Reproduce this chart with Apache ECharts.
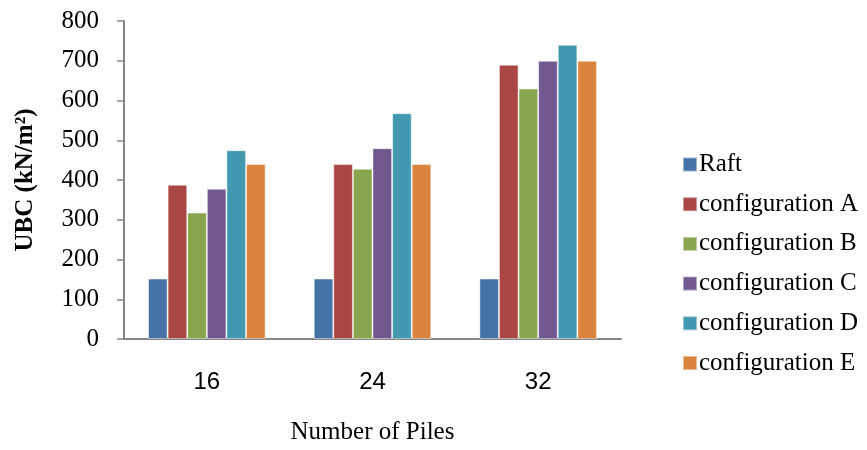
<!DOCTYPE html>
<html>
<head>
<meta charset="utf-8">
<script src="https://cdn.jsdelivr.net/npm/echarts@6/dist/echarts.min.js"></script>
<style>html,body{margin:0;padding:0;background:#fff}#c{width:867px;height:450px}</style>
</head>
<body>
<div id="c"></div>
<script>
var categories = ['16', '24', '32'];
var seriesNames = ['Raft', 'configuration A', 'configuration B', 'configuration C', 'configuration D', 'configuration E'];
var raft = [152, 152, 152];
var configA = [388, 440, 690];
var configB = [318, 428, 630];
var configC = [378, 480, 700];
var configD = [475, 568, 740];
var configE = [440, 440, 700];
var yTicks = [0, 100, 200, 300, 400, 500, 600, 700, 800];
var colors = ['#4572A7', '#AA4643', '#89A54E', '#71588F', '#4198AF', '#DB843D'];

var values = [raft, configA, configB, configC, configD, configE];
var chart = echarts.init(document.getElementById('c'));
var serif = '"Liberation Serif", "Times New Roman", serif';
chart.setOption({
  animation: false,
  color: colors,
  grid: { left: 124, right: 246, top: 21, bottom: 108 },
  legend: {
    orient: 'vertical',
    left: 677,
    top: 147,
    itemWidth: 14,
    itemHeight: 14,
    itemGap: 14.7,
    icon: 'rect',
    textStyle: { fontFamily: serif, fontSize: 25, color: '#000', padding: [0, 0, 0, -3], lineHeight: 24 },
    data: seriesNames
  },
  xAxis: {
    type: 'category',
    data: categories,
    axisLine: { lineStyle: { color: '#868686', width: 2 } },
    axisTick: { show: false },
    axisLabel: { fontFamily: '"Liberation Sans Narrow", "Liberation Sans", Arial, sans-serif', fontSize: 24, color: '#000', margin: 31 },
    name: 'Number of Piles',
    nameLocation: 'middle',
    nameGap: 81,
    nameTextStyle: { fontFamily: serif, fontSize: 25, color: '#000' }
  },
  yAxis: {
    type: 'value',
    min: yTicks[0],
    max: yTicks[yTicks.length - 1],
    interval: 100,
    axisLine: { show: true, lineStyle: { color: '#868686', width: 2 } },
    axisTick: { show: true, length: 7, lineStyle: { color: '#868686', width: 1.5 } },
    splitLine: { show: false },
    axisLabel: { fontFamily: serif, fontSize: 25, color: '#000', margin: 25 },
    name: 'UBC (kN/m²)',
    nameLocation: 'middle',
    nameGap: 86,
    nameTextStyle: { fontFamily: serif, fontSize: 25, fontWeight: 'bold', color: '#000' }
  },
  series: seriesNames.map(function (n, i) {
    return {
      name: n,
      type: 'bar',
      data: values[i],
      barGap: '0%',
      barCategoryGap: '29%',
      itemStyle: { borderColor: 'rgba(255,255,255,0.45)', borderWidth: 1 }
    };
  })
});
</script>
</body>
</html>
